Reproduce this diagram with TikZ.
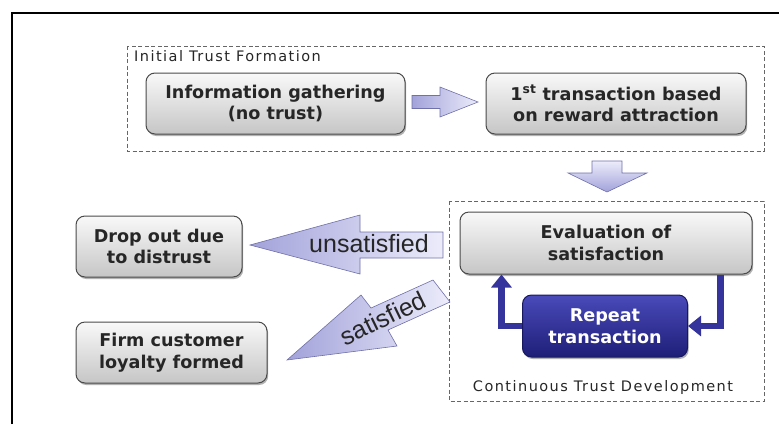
\documentclass[tikz,border=0pt]{standalone}
\usepackage{fontspec}
\setmainfont{DejaVu Sans}
\newfontfamily\arialf{Liberation Sans}
\newfontfamily\spacedf[LetterSpace=10]{DejaVu Sans}
\usetikzlibrary{shadows,arrows.meta,calc}
\definecolor{boxline}{HTML}{4A4A4A}
\definecolor{arrL}{HTML}{ECECFB}
\definecolor{arrD}{HTML}{A2A2DA}
\definecolor{arrline}{HTML}{7070AA}
\definecolor{fbblue}{HTML}{34349C}
\definecolor{reptop}{HTML}{4A4ABA}
\definecolor{repbot}{HTML}{1E1E78}
\definecolor{dashgray}{HTML}{666666}
\begin{document}
\begin{tikzpicture}[x=1pt,y=-1pt,
  graybox/.style={rounded corners=9pt, draw=boxline, line width=1pt,
    top color=gray!5, bottom color=gray!45, align=center,
    font=\bfseries\fontsize{17.6}{21.5}\selectfont, text=black!85, inner sep=0pt,
    drop shadow={shadow xshift=1.2pt, shadow yshift=-2pt, opacity=0.3, fill=black}},
  bluebox/.style={graybox, draw=repbot!80!black, top color=reptop, bottom color=repbot, text=white},
  groupbox/.style={draw=dashgray, dashed, dash pattern=on 4pt off 2.5pt, line width=0.8pt},
  grouplabel/.style={font=\spacedf\fontsize{14.5}{16}\selectfont, text=black!85, inner sep=0pt},
  blockarrow/.style={draw=arrline, line width=0.6pt, left color=arrD, right color=arrL},
  arrtext/.style={font=\arialf\fontsize{25}{27}\selectfont, text=black!85, inner sep=0pt},
  fb/.style={draw=fbblue, line width=6.5pt, -{Triangle[length=13pt, width=20pt]}}
]
\useasboundingbox (0,0) rectangle (779,424);
% outer frame
\draw[line width=1.5pt] (12,424) -- (12,13) -- (779,13);

% group frames
\draw[groupbox] (127,46) rectangle (764,151);
\node[grouplabel, anchor=west] (lblinit) at (134,56) {Initial Trust Formation};
\draw[groupbox] (449,201) rectangle (764,401);
\node[grouplabel] (lblcont) at (603,387) {Continuous Trust Development};

% boxes
\node[graybox, minimum width=259pt, minimum height=61pt] (info) at (275.5,103.5) {Information gathering\\(no trust)};
\node[graybox, minimum width=260pt, minimum height=61pt] (first) at (616,103.5) {1\textsuperscript{st} transaction based\\on reward attraction};
\node[graybox, minimum width=292pt, minimum height=62pt] (eval) at (606,243) {Evaluation of\\satisfaction};
\node[bluebox, minimum width=165pt, minimum height=62pt] (rep) at (605,326) {Repeat\\transaction};
\node[graybox, minimum width=166pt, minimum height=61pt] (drop) at (159,246.5) {Drop out due\\to distrust};
\node[graybox, minimum width=191pt, minimum height=61pt] (firm) at (171.5,352.5) {Firm customer\\loyalty formed};

% block arrows
\draw[blockarrow] (412,95.5) -- (440,95.5) -- (440,87) -- (478,102) -- (440,117) -- (440,108.5) -- (412,108.5) -- cycle;
\draw[blockarrow, top color=arrL, bottom color=arrD] (592,161) -- (622,161) -- (622,173) -- (647,173) -- (607,192) -- (568,173) -- (592,173) -- cycle;
\draw[blockarrow] (443,232) -- (360,232) -- (360,215) -- (250,245) -- (360,274) -- (360,258) -- (443,258) -- cycle;
\node[arrtext] (unsat) at (369,244) {unsatisfied};
\draw[blockarrow] (433,280) -- (450,302) -- (388,330) -- (397,346) -- (287,360) -- (361,295) -- (371,308) -- cycle;
\node[arrtext, rotate=26] (sat) at (383,318) {satisfied};

% feedback loop
\draw[fb] (rep.west) -| ($(eval.south west)+(42,0)$);
\draw[fb] ($(eval.south east)+(-32,0)$) |- (rep.east);
\end{tikzpicture}
\end{document}
